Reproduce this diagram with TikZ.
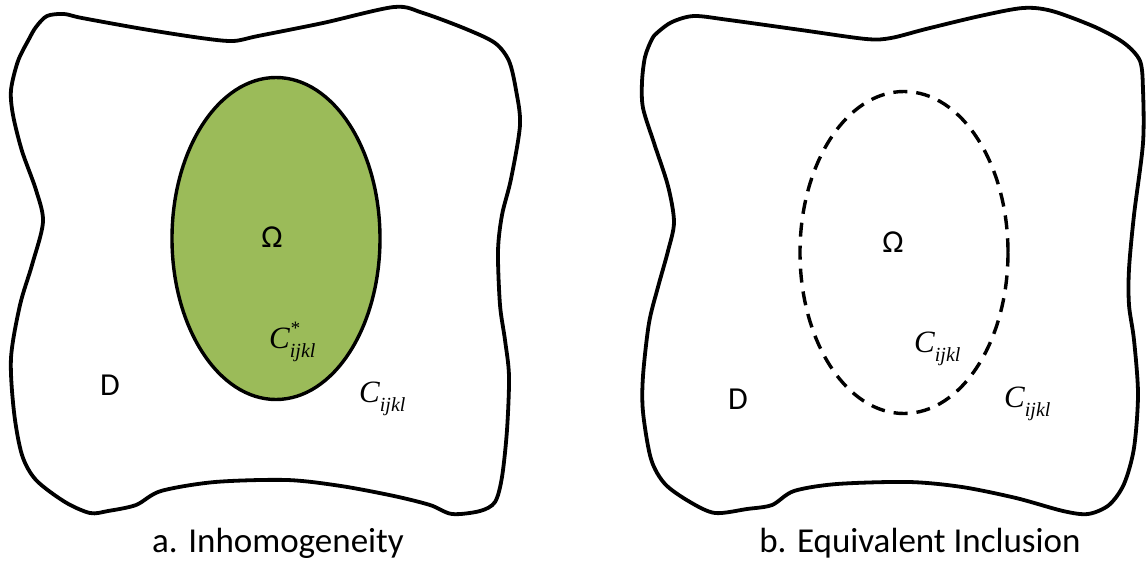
\documentclass[tikz,border=0pt]{standalone}
\usepackage{fontspec}
\setmainfont{Carlito}
\newfontfamily\tms{Liberation Serif}
\definecolor{olivegreen}{HTML}{9BBB59}
\newcommand{\Cijkl}[1]{{\tms\itshape\fontsize{31}{31}\selectfont C\rlap{\raisebox{0.42em}{\fontsize{19}{19}\selectfont #1}}\raisebox{-0.3em}{\fontsize{20}{20}\selectfont ijkl}}}
\begin{document}
\begin{tikzpicture}[x=1pt,y=-1pt,
  blob/.style={draw=black,line width=3.8pt,line join=round},
  incl/.style={draw=black,line width=3.4pt},
  lbl/.style={inner sep=0pt,font=\fontsize{32}{32}\selectfont},
  captext/.style={inner sep=0pt,font=\fontsize{35}{35}\selectfont},
  clbl/.style={inner sep=0pt,anchor=base west}]
\useasboundingbox[fill=white] (0,0) rectangle (1146,562);
% left domain
\draw[blob] plot[smooth cycle,tension=0.5] coordinates {(47,16)(64,14)(82,18)(143,29)(201,38)(233,41)(258,36)(323,23)(394,7)(423,13)(466,29)(495,43)(509,61)(516,90)(520,125)(511,179)(502,215)(498,251)(500,305)(505,340)(509,376)(507,430)(502,477)(495,502)(480,511)(452,514)(430,505)(394,496)(341,486)(287,480)(215,482)(161,491)(136,505)(108,511)(90,513)(65,502)(36,480)(22,455)(14,412)(11,358)(20,305)(32,265)(43,222)(36,190)(22,151)(13,115)(11,90)(18,61)(29,39)(36,27)};
\draw[incl,fill=olivegreen] (276,238.5) ellipse [x radius=104,y radius=161];
% right domain
\draw[blob] plot[smooth cycle,tension=0.5] coordinates {(672,22)(694,16)(729,20)(801,30)(866,39)(891,38)(926,29)(980,16)(1023,8)(1052,11)(1095,27)(1124,43)(1140,61)(1143,90)(1143,143)(1134,215)(1129,269)(1129,305)(1134,340)(1138,394)(1134,448)(1124,484)(1109,505)(1088,514)(1063,511)(1016,498)(962,487)(909,482)(837,484)(794,491)(772,505)(747,509)(715,513)(690,502)(665,484)(651,459)(643,412)(643,376)(649,323)(658,287)(668,251)(674,222)(668,186)(654,143)(643,108)(642,82)(645,57)(652,39)(658,32)};
\draw[incl,dash pattern=on 14pt off 9pt] (904,252.5) ellipse [x radius=104,y radius=161];
% labels left
\node[lbl] (omegaA) at (272,237) {Ω};
\node[lbl] (dA) at (110,385) {D};
\node[clbl] (cstarA) at (269,348) {\Cijkl{*}};
\node[clbl] (cA) at (359,402) {\Cijkl{}};
\node[captext] (capA) at (278,543) {a. Inhomogeneity};
% labels right
\node[lbl] (omegaB) at (893,242) {Ω};
\node[lbl] (dB) at (738,399) {D};
\node[clbl] (cinB) at (914,352) {\Cijkl{}};
\node[clbl] (cB) at (1004,407) {\Cijkl{}};
\node[captext] (capB) at (920,543) {b. Equivalent Inclusion};
\end{tikzpicture}
\end{document}
